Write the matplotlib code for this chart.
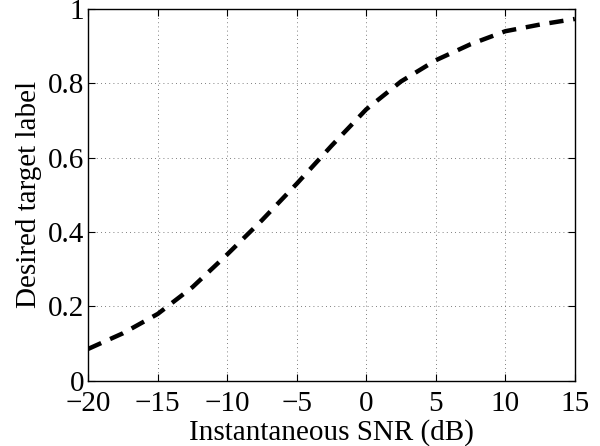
import numpy as np
import matplotlib
matplotlib.use("Agg")
import matplotlib.pyplot as plt

# values
snr_db = [-20, -17.5, -15, -12.5, -10, -7.5, -5, -2.5, 0, 2.5, 5, 7.5, 10, 12.5, 15]
target = [0.086, 0.128, 0.18, 0.252, 0.34, 0.432, 0.53, 0.632, 0.73, 0.805, 0.862, 0.905, 0.94, 0.958, 0.973]

x_ticks = [-20, -15, -10, -5, 0, 5, 10, 15]
y_ticks = [0, 0.2, 0.4, 0.6, 0.8, 1]
y_tick_labels = ["0", "0.2", "0.4", "0.6", "0.8", "1"]

plt.rcParams["font.family"] = ["Liberation Serif", "DejaVu Serif"]

fig = plt.figure(figsize=(6, 4.46), dpi=100)
ax = fig.add_axes([0.147, 0.146, 0.811, 0.834])

ax.plot(snr_db, target, color="black", linewidth=3.2, linestyle=(0, (3.2, 2.2)),
        dash_capstyle="butt")

ax.set_xlim(-20, 15)
ax.set_ylim(0, 1)
ax.set_xticks(x_ticks)
ax.set_xticklabels(["\u2212" + str(-t) if t < 0 else str(t) for t in x_ticks])
ax.set_yticks(y_ticks)
ax.set_yticklabels(y_tick_labels)

ax.grid(True, linestyle=(0, (1, 4)), linewidth=0.6, color="#555555")
ax.tick_params(direction="in", length=5, width=0.8, labelsize=21,
               top=True, right=True)
ax.tick_params(axis="x", pad=7)
ax.tick_params(axis="y", pad=3)
for s in ax.spines.values():
    s.set_linewidth(1.0)

ax.set_xlabel("Instantaneous SNR (dB)", fontsize=21, labelpad=2)
ax.set_ylabel("Desired target label", fontsize=21, labelpad=4)

fig.savefig("out.png", dpi=100)
